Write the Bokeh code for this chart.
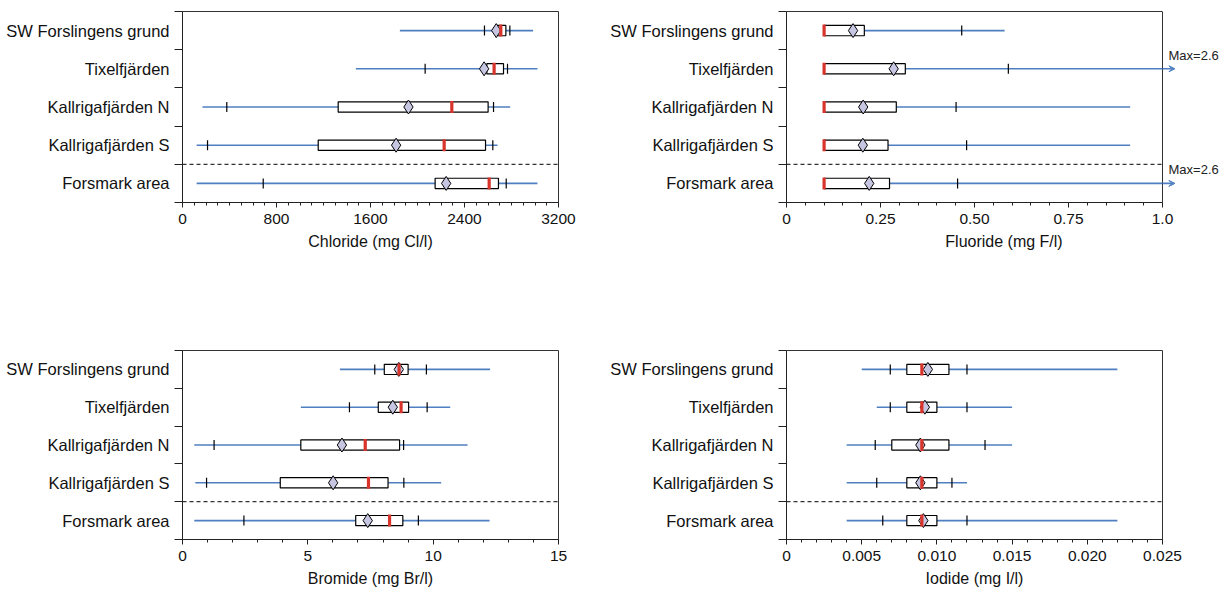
import numpy as np
from bokeh.plotting import figure
from bokeh.models import (Range1d, FixedTicker, Span, Arrow, VeeHead, Label,
                          ColumnDataSource, LinearAxis)
from bokeh.layouts import column, row
from bokeh.embed import file_html
from bokeh.resources import INLINE

# ---------------- data ----------------
sites = ["SW Forslingens grund", "Tixelfjärden", "Kallrigafjärden N",
         "Kallrigafjärden S", "Forsmark area"]

# Chloride (mg Cl/l)
cl_min = [1850, 1475, 170, 120, 120]
cl_p10 = [2570, 2065, 377, 213, 687]
cl_q1 = [2680, 2590, 1325, 1155, 2150]
cl_med = [2709, 2652, 2292, 2227, 2610]
cl_mean = [2670, 2567, 1923, 1818, 2244]
cl_q3 = [2752, 2732, 2601, 2579, 2689]
cl_p90 = [2786, 2766, 2647, 2641, 2755]
cl_max = [2984, 3021, 2789, 2681, 3021]
cl_ticks = [0, 800, 1600, 2400, 3200]
cl_tick_labels = ["0", "800", "1600", "2400", "3200"]

# Fluoride (mg F/l)
f_min = [0.1, 0.1, 0.1, 0.1, 0.1]
f_p10 = [0.1, 0.1, 0.1, 0.1, 0.1]
f_q1 = [0.1, 0.1, 0.1, 0.1, 0.1]
f_med = [0.1, 0.1, 0.1, 0.1, 0.1]
f_mean = [0.177, 0.285, 0.204, 0.203, 0.220]
f_q3 = [0.207, 0.316, 0.292, 0.270, 0.274]
f_p90 = [0.466, 0.590, 0.451, 0.479, 0.455]
f_max = [0.580, 2.6, 0.914, 0.914, 2.6]
f_ticks = [0, 0.25, 0.5, 0.75, 1.0]
f_tick_labels = ["0", "0.25", "0.50", "0.75", "1.0"]

# Bromide (mg Br/l)
br_min = [6.28, 4.72, 0.47, 0.51, 0.47]
br_p10 = [7.67, 6.66, 1.26, 0.96, 2.45]
br_q1 = [8.05, 7.81, 4.72, 3.90, 6.91]
br_med = [8.64, 8.72, 7.29, 7.42, 8.26]
br_mean = [8.63, 8.39, 6.36, 6.01, 7.39]
br_q3 = [9.00, 9.02, 8.66, 8.20, 8.79]
br_p90 = [9.73, 9.76, 8.82, 8.83, 9.41]
br_max = [12.27, 10.68, 11.37, 10.32, 12.25]
br_ticks = [0, 5, 10, 15]
br_tick_labels = ["0", "5", "10", "15"]

# Iodide (mg I/l)
i_min = [0.005, 0.006, 0.004, 0.004, 0.004]
i_p10 = [0.0069, 0.0069, 0.0059, 0.0060, 0.0064]
i_q1 = [0.0080, 0.0080, 0.0070, 0.0080, 0.0080]
i_med = [0.0090, 0.0090, 0.0090, 0.0090, 0.0090]
i_mean = [0.0094, 0.0092, 0.0089, 0.0089, 0.0091]
i_q3 = [0.0108, 0.0100, 0.0108, 0.0100, 0.0100]
i_p90 = [0.0120, 0.0120, 0.0132, 0.0110, 0.0120]
i_max = [0.0220, 0.0150, 0.0150, 0.0120, 0.0220]
i_ticks = [0, 0.005, 0.010, 0.015, 0.020, 0.025]
i_tick_labels = ["0", "0.005", "0.010", "0.015", "0.020", "0.025"]

# ---------------- style ----------------
FONT = "Liberation Sans"
BLUE = "#4f7fc0"
RED = "#d8342c"
DIAMOND = "#c6c6e2"
AXIS = "#222222"
FRAME_W = 376


def make_panel(title, vals, ticks, tick_labels, n_minor, width, height,
               bl, br, bt, bb):
    mn, p10, q1, med, mean, q3, p90, mx = vals
    n = len(sites)
    ypos = [n - k for k in range(n)]
    xend = ticks[-1]
    overflow = any(v > xend for v in mx)
    if overflow:
        # frame widened to the figure's right edge so the arrows and
        # "Max=" notes can be drawn; the visible box ends at xend
        frame_px = width - bl
        br = 0
        xr_end = xend * frame_px / FRAME_W
    else:
        xr_end = xend
    src = ColumnDataSource(dict(y=ypos, mn=mn, p10=p10, q1=q1, med=med,
                                mean=mean, q3=q3, p90=p90,
                                mx=[min(v, xend) for v in mx]))
    p = figure(width=width, height=height, x_range=Range1d(0, xr_end),
               y_range=Range1d(0.5, n + 0.5), output_backend="svg",
               toolbar_location=None, min_border_left=bl, min_border_right=br,
               min_border_top=bt, min_border_bottom=bb)
    p.xgrid.visible = False
    p.ygrid.visible = False
    p.background_fill_color = "white"
    p.border_fill_color = "white"

    # x axis (bottom)
    bx = p.below[0]
    step = (ticks[1] - ticks[0]) / n_minor
    minor = [ticks[0] + j * step for j in range(int(round(xend / step)) + 1)]
    bx.ticker = FixedTicker(ticks=ticks, minor_ticks=minor)
    bx.major_label_overrides = dict(zip(ticks, tick_labels))
    bx.axis_label = title
    bx.axis_label_text_font = FONT
    bx.axis_label_text_font_style = "normal"
    bx.axis_label_text_font_size = "16px"
    bx.axis_label_text_color = "#111111"
    bx.axis_label_standoff = 6
    bx.major_label_text_font = FONT
    bx.major_label_text_font_size = "15.5px"
    bx.major_label_text_color = "#111111"
    bx.major_label_standoff = 6
    bx.major_tick_out = 5
    bx.major_tick_in = 0
    bx.minor_tick_out = 3
    bx.minor_tick_in = 0
    bx.axis_line_color = AXIS
    bx.major_tick_line_color = AXIS
    bx.minor_tick_line_color = AXIS

    # y axis: labels at row centres, tick marks at row boundaries
    ly = p.left[0]
    bounds = [k + 0.5 for k in range(n + 1)]
    ly.ticker = FixedTicker(ticks=ypos, minor_ticks=bounds)
    ly.major_label_overrides = {y: s for y, s in zip(ypos, sites)}
    ly.major_tick_line_color = None
    ly.major_tick_out = 0
    ly.major_tick_in = 0
    ly.minor_tick_out = 8
    ly.minor_tick_in = 0
    ly.minor_tick_line_color = AXIS
    ly.minor_tick_line_width = 1.2
    ly.axis_line_color = AXIS
    ly.major_label_text_font = FONT
    ly.major_label_text_font_size = "16.5px"
    ly.major_label_text_color = "#111111"
    ly.major_label_standoff = 5

    if overflow:
        bx.bounds = (0, xend)
        p.outline_line_color = None
        top = LinearAxis(bounds=(0, xend), ticker=FixedTicker(ticks=[]),
                         axis_line_color="#333333",
                         major_tick_line_color=None,
                         minor_tick_line_color=None,
                         major_tick_out=0, minor_tick_out=0,
                         major_label_text_font_size="0px")
        p.add_layout(top, "above")
        p.add_layout(Span(location=xend, dimension="height",
                          line_color="#333333", line_width=1))
        p.segment(x0=[0], y0=[1.5], x1=[xend], y1=[1.5], line_color="#333333",
                  line_dash="4 3", line_width=1.2)
    else:
        p.outline_line_color = "#333333"
        p.outline_line_width = 1
        p.add_layout(Span(location=1.5, dimension="width",
                          line_color="#333333", line_dash="4 3",
                          line_width=1.2))

    # whisker line (min..max)
    p.segment(x0="mn", y0="y", x1="mx", y1="y", source=src,
              line_color=BLUE, line_width=1.6)
    # 10th / 90th percentile ticks
    for col in ("p10", "p90"):
        p.scatter(x=col, y="y", source=src, marker="dash", angle=np.pi / 2,
                  size=10, line_color="black", line_width=1.2)
    # box q1..q3
    p.hbar(y="y", left="q1", right="q3", height=0.27, source=src,
           fill_color="white", line_color="black", line_width=1.2)
    # mean
    p.scatter(x="mean", y="y", source=src, marker="diamond", size=14,
              fill_color=DIAMOND, line_color="black", line_width=1)
    # median
    p.scatter(x="med", y="y", source=src, marker="dash", angle=np.pi / 2,
              size=12, line_color=RED, line_width=3.2)

    # off-scale maxima
    for k in range(n):
        if mx[k] > xend:
            p.add_layout(Arrow(end=VeeHead(size=6, line_color=BLUE,
                                           fill_color=BLUE, line_width=1),
                               x_start=xend, y_start=ypos[k],
                               x_end=xend * 1.033, y_end=ypos[k],
                               line_color=BLUE, line_width=1.6))
            p.add_layout(Label(x=xend, y=ypos[k], x_offset=6, y_offset=6,
                               text=f"Max={mx[k]:g}", text_font=FONT,
                               text_font_size="13px", text_baseline="bottom",
                               text_color="#222222"))
    return p


p1 = make_panel("Chloride (mg Cl/l)",
                (cl_min, cl_p10, cl_q1, cl_med, cl_mean, cl_q3, cl_p90, cl_max),
                cl_ticks, cl_tick_labels, 8, 600, 300, 182, 42, 11, 98)
p2 = make_panel("Fluoride (mg F/l)",
                (f_min, f_p10, f_q1, f_med, f_mean, f_q3, f_p90, f_max),
                f_ticks, f_tick_labels, 5, 621, 300, 186, 59, 11, 98)
p3 = make_panel("Bromide (mg Br/l)",
                (br_min, br_p10, br_q1, br_med, br_mean, br_q3, br_p90, br_max),
                br_ticks, br_tick_labels, 5, 600, 290, 182, 42, 50, 51)
p4 = make_panel("Iodide (mg I/l)",
                (i_min, i_p10, i_q1, i_med, i_mean, i_q3, i_p90, i_max),
                i_ticks, i_tick_labels, 5, 621, 290, 186, 59, 50, 51)

layout = column(row(p1, p2), row(p3, p4))
open("out.html", "w").write(file_html(layout, INLINE))
